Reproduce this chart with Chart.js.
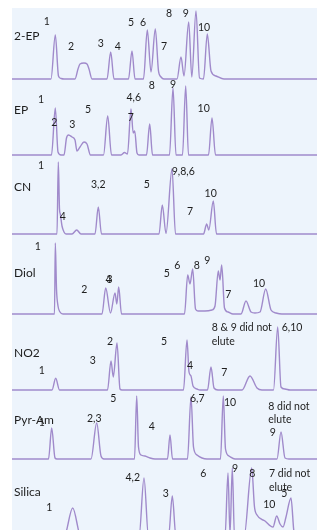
<!DOCTYPE html>
<html><head><meta charset="utf-8">
<script src="https://cdn.jsdelivr.net/npm/chart.js@4/dist/chart.umd.min.js"></script>
<style>
html,body{margin:0;padding:0;background:#fff;overflow:hidden;width:317px;height:530px}
#bg{position:absolute;left:12px;top:8px;width:305px;height:522px;background:#edf4fc}
canvas{position:absolute;left:0}
</style></head><body><div id="bg"></div>
<script>
// Column names (stationary phases), top to bottom
const phases = ["2-EP", "EP", "CN", "Diol", "NO2", "Pyr-Am", "Silica"];

// Detector traces: [retention position, signal]
const trace2EP = [[12,0],[51,0],[55.3,44],[58.5,3],[61,0.5],[64,0],[75,0],[78,10],[80,15],[84,16],[87,15],[89,10],[92,0],
  [107,0],[110.7,27],[114,0],[128.5,0],[132,28],[135,0],[143.5,0],[147.3,49],[151,7],[155.3,50],[158.5,8],[161,2],[164,0],
  [177,0],[181,22],[184,3],[188.7,57],[191.8,2],[196,68],[199.5,1],[203.5,0],[207.3,45],[211,8],[216,3],[224,0],[317,0]];
const traceEP = [[12,0],[51.5,0],[55.3,47],[58,3],[61,0],[64,0],[66.5,17],[68.5,20],[72,18],[75,15],[77,4],[80,8],[84,13],[87,11],[90.5,0],
  [103.5,0],[107.7,39],[111.5,0],[121,0],[124.5,2.5],[127.5,1],[131,46],[133.2,22],[134.7,24],[137,2],[139,0],
  [146.5,0],[149.7,31],[152.5,0],[169.5,0],[173,67],[176,0],[182.5,0],[185.7,69],[188.5,0],[208.5,0],[212,37],[215.5,0],[317,0]];
const traceCN = [[12,0],[57,0],[58.3,72],[59.5,25],[60.3,20],[62,8],[64,2],[66,0],[72,0],[76.7,4],[81,0],
  [95,0],[98.3,27],[101.5,0],[159,0],[162.3,29],[166,0.5],[172,65],[175.5,0],
  [203.5,0],[206.7,10],[208.8,4],[213.3,33],[216.5,0],[317,0]];
const traceDiol = [[12,0],[54.5,0],[55.3,71],[56.5,25],[58,8],[60,2],[63,0],
  [102,0],[105.7,26],[110.5,1],[115,21],[116.8,10],[118.7,27],[121.5,0],
  [184.5,0],[187.7,39],[190,30],[192.7,45],[195.5,5],[198,3],[205,3],[212,4],[215,8],[218.3,43],[220,34],[221.7,49],[224.5,6],[228,2],[233,0],
  [241,0],[246,13],[251,2],[255,1],[260,2],[265.7,25],[271,4],[276,1],[282,0],[317,0]];
const traceNO2 = [[12,0],[52,0],[55.7,11.7],[59.5,0],[107.5,0],[111,29],[113.3,13],[117,47],[120,1],[122,0],
  [183.5,0],[187,50],[189,18],[191,14],[193,4],[197,1],[200,0],[207.5,0],[211,23],[214,2],[218,0],
  [242,0],[250,14],[257,2],[262,0],[273.5,0],[277.7,63],[281,3],[285,1],[290,0],[317,0]];
const tracePyrAm = [[12,0],[48.5,0],[51.7,31],[55,1],[57,0],[91,0],[96.7,36],[101,3],[104,0],
  [134.5,0],[136.7,63],[138.5,12],[141,4],[145,3],[150,1],[155,0],[167.5,0],[170,24],[172.5,0],
  [187.5,0],[191,62],[193.5,12],[197,4],[202,1],[207,0],[220.5,0],[223.3,63],[225.5,10],[229,3],[235,0],
  [277,0],[281,27],[285,1],[289,0],[317,0]];
const traceSilica = [[12,0],[64,0],[72.7,29],[81,0],[139,0],[144,59],[148.5,0],[168.5,0],[172.3,41],[176,0],
  [225,0],[228,64],[230,3],[232.3,69],[234.5,0],[244,0],[251.7,69],[254.5,30],[257,22],[265,16],[273,10],[276.7,21],
  [280,13],[283,10],[286,20],[291,39],[294,5],[297,0],[317,0]];

// Peak annotations: [text, position, signal height, align]
const labels2EP = [["1",46.7,57],["2",71,32.7],["3",100.7,35.3],["4",117.7,32.7],["5",131,56],["6",143,56],["7",164,32.7],["8",169,65.3],["9",185.7,65.3],["10",204,51]];
const labelsEP = [["1",41,55],["2",54.3,32],["3",72.3,30],["5",88,45],["4,6",133.7,57],["7",130.7,37],["8",151.7,69],["9",173,70],["10",203.7,46]];
const labelsCN = [["1",41,68],["4",62.7,17],["3,2",98.3,49],["5",146.7,49],["9,8,6",183.3,62],["7",190,22],["10",210.7,40]];
const labelsDiol = [["1",37.7,67],["2",84.3,24],["4",108.5,34],["3",109.5,34],["5",166.7,40],["6",177.3,48],["8",196.7,48],["9",207.3,53],["7",228.3,19],["10",259,30]];
const labelsNO2 = [["1",41.7,19],["3",92.7,29],["2",110,48],["5",164,48],["4",190,24],["7",224.3,17],["8 & 9 did not",211.7,62,"left"],["elute",211.7,48,"left"],["6,10",281.7,62,"left"]];
const labelsPyrAm = [["1",41.7,36],["2,3",94.3,40],["5",113.3,60],["4",151.7,32],["6,7",190,60,"left"],["10",224,56,"left"],["8 did not",268.3,52,"left"],["elute",268.3,39,"left"],["9",272.7,26]];
const labelsSilica = [["1",49.3,29],["4,2",132.7,59],["3",165.7,43],["6",203.3,63],["9",235,68],["8",252.3,63],["7 did not",269,63,"left"],["elute",269,49,"left"],["5",284.3,43],["10",269.3,32]];

const traces = [trace2EP, traceEP, traceCN, traceDiol, traceNO2, tracePyrAm, traceSilica];
const peakLabels = [labels2EP, labelsEP, labelsCN, labelsDiol, labelsNO2, labelsPyrAm, labelsSilica];
const phaseLabelHeight = [43, 45, 47, 41, 37, 39, 45];

// layout: panel top and baseline (px)
const panelTop = [8, 80, 156, 235, 315, 391, 460];
const panelBase = [79, 155, 234, 314, 390, 459, 537];

const labelPlugin = {
  id: 'peaklabels',
  afterDatasetsDraw(chart, args, opts) {
    const ctx = chart.ctx, xs = chart.scales.x, ys = chart.scales.y;
    ctx.save();
    ctx.fillStyle = '#1e1e1e';
    ctx.textBaseline = 'middle';
    ctx.font = '10.5px Lato, "Liberation Sans", sans-serif';
    for (const l of opts.items) {
      ctx.textAlign = l[3] || 'center';
      ctx.fillText(l[0], xs.getPixelForValue(l[1]), ys.getPixelForValue(l[2]));
    }
    ctx.font = '12px Lato, "Liberation Sans", sans-serif';
    ctx.textAlign = 'left';
    ctx.fillText(opts.name, xs.getPixelForValue(14), ys.getPixelForValue(opts.nameH));
    ctx.restore();
  }
};

phases.forEach((name, i) => {
  const H = panelBase[i] - panelTop[i];
  const cv = document.createElement('canvas');
  cv.width = 317; cv.height = H + 2;
  cv.style.top = panelTop[i] + 'px';
  cv.style.width = '317px'; cv.style.height = (H + 2) + 'px';
  document.body.appendChild(cv);
  new Chart(cv, {
    type: 'line',
    data: { datasets: [{
      data: traces[i].map(p => ({x: p[0], y: p[1]})),
      borderColor: '#a08acb', borderWidth: 1.4, pointRadius: 0,
      cubicInterpolationMode: 'monotone', fill: false, clip: false
    }]},
    options: {
      responsive: false, animation: false, events: [],
      layout: { padding: { left: 12, right: 0, top: 0, bottom: 2 } },
      plugins: { legend: { display: false }, tooltip: { enabled: false },
        peaklabels: { items: peakLabels[i], name: name, nameH: phaseLabelHeight[i] } },
      scales: {
        x: { type: 'linear', min: 12, max: 317, display: false },
        y: { min: 0, max: H, display: false }
      }
    },
    plugins: [labelPlugin]
  });
});
</script></body></html>
